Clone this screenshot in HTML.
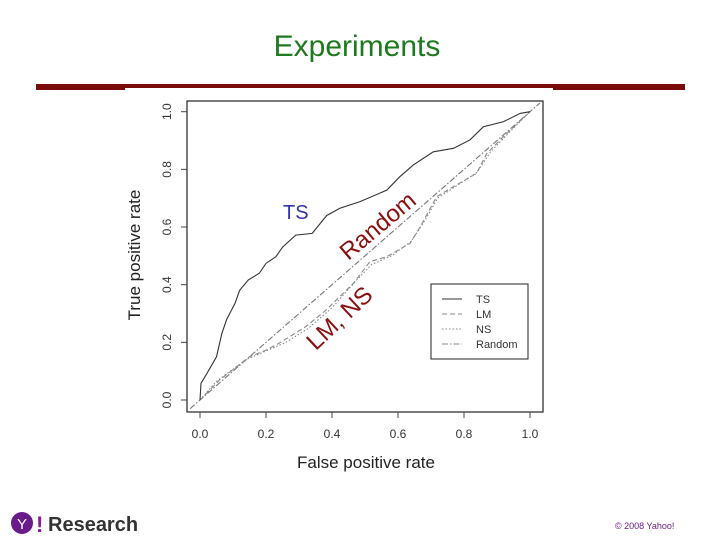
<!DOCTYPE html>
<html><head><meta charset="utf-8"><style>
body{margin:0;background:#fff;}
svg text{font-family:"Liberation Sans",Arial,sans-serif;}
</style></head><body>
<svg width="720" height="540" viewBox="0 0 720 540" xmlns="http://www.w3.org/2000/svg">
<text x="357" y="56" font-size="30" fill="#1e7a1e" text-anchor="middle">Experiments</text>
<rect x="36" y="84" width="649" height="6" fill="#7a0c0c"/>
<rect x="125" y="88" width="428" height="10" fill="#fff"/>
<g id="chart"></g>
<text x="283" y="219" font-size="20" fill="#3333aa">TS</text>
<text transform="translate(383,232) rotate(-40)" font-size="24" fill="#8a1010" text-anchor="middle">Random</text>
<text transform="translate(345,324) rotate(-43)" font-size="24" fill="#8a1010" text-anchor="middle">LM, NS</text>
<g>
<circle cx="22" cy="523" r="11" fill="#6a1b8a"/>
<text x="22" y="529" font-size="15" fill="#fff" text-anchor="middle" font-family="Liberation Serif">Y</text>
<text x="36" y="532" font-size="22" fill="#8a1a9a" font-weight="bold">!</text>
<text x="48" y="531" font-size="20" fill="#333" font-weight="bold">Research</text>
</g>
<text x="615" y="529" font-size="9" fill="#6a1b8a">© 2008 Yahoo!</text>
</svg>
<script>
const ticks=[0,0.2,0.4,0.6,0.8,1.0];
const tickLabels=["0.0","0.2","0.4","0.6","0.8","1.0"];
const tsFpr=[0,0.003,0.02,0.05,0.066,0.081,0.106,0.12,0.146,0.18,0.2,0.23,0.25,0.29,0.34,0.384,0.424,0.485,0.566,0.606,0.646,0.707,0.768,0.818,0.859,0.919,0.97,1];
const tsTpr=[0,0.058,0.09,0.15,0.23,0.28,0.335,0.38,0.416,0.44,0.474,0.497,0.53,0.572,0.578,0.64,0.665,0.688,0.728,0.775,0.815,0.861,0.873,0.902,0.948,0.965,0.994,1];
const lmFpr=[0,0.06,0.15,0.2,0.24,0.32,0.38,0.465,0.515,0.566,0.636,0.667,0.717,0.768,0.838,0.869,0.919,1];
const lmTpr=[0,0.07,0.15,0.173,0.197,0.254,0.31,0.405,0.48,0.497,0.543,0.6,0.705,0.74,0.786,0.855,0.913,1];
const nsFpr=[0,0.05,0.14,0.2,0.26,0.33,0.4,0.47,0.52,0.58,0.64,0.68,0.72,0.78,0.84,0.88,0.93,1];
const nsTpr=[0,0.065,0.14,0.17,0.2,0.25,0.32,0.41,0.47,0.5,0.55,0.62,0.7,0.745,0.79,0.86,0.92,1];
const rndFpr=[-0.03,1.03];
const rndTpr=[-0.03,1.03];
const legendLabels=["TS","LM","NS","Random"];
const legendDash=["","5,3","1.5,2","6,2,1.5,2"];
const NS="http://www.w3.org/2000/svg";
const X=v=>200+v*330, Y=v=>400-v*288.3;
const g=document.getElementById('chart');
function mk(t,a,p){const e=document.createElementNS(NS,t);for(const k in a)e.setAttribute(k,a[k]);(p||g).appendChild(e);return e;}
const box=mk('rect',{x:187,y:101,width:356,height:311,fill:'none',stroke:'#222','stroke-width':1.2});


ticks.forEach((t,i)=>{
 mk('line',{x1:X(t),x2:X(t),y1:412,y2:418,stroke:'#444'});
 const tx=mk('text',{x:X(t),y:438,'font-size':12,'text-anchor':'middle',fill:'#333'});tx.textContent=tickLabels[i];
 
 
 mk('line',{x1:181,x2:187,y1:Y(t),y2:Y(t),stroke:'#444'});
 const ty=mk('text',{transform:`translate(171,${Y(t)}) rotate(-90)`,'font-size':12,'text-anchor':'middle',fill:'#333'});ty.textContent=tickLabels[i];
 
 
});
const xt=mk('text',{x:366,y:468,'font-size':17,'text-anchor':'middle',fill:'#222'});xt.textContent='False positive rate';


const yt=mk('text',{transform:'translate(140,255) rotate(-90)','font-size':17,'text-anchor':'middle',fill:'#222'});yt.textContent='True positive rate';


function line(xs,ys,dash,col,name){const p=mk('polyline',{points:xs.map((x,i)=>X(x)+','+Y(ys[i])).join(' '),fill:'none',stroke:col,'stroke-width':1.1,'stroke-dasharray':dash});
 
 }
line(rndFpr,rndTpr,legendDash[3],'#777','random-line');
line(nsFpr,nsTpr,legendDash[2],'#888','ns-line');
line(lmFpr,lmTpr,legendDash[1],'#888','lm-line');
line(tsFpr,tsTpr,'','#333','ts-line');
const lg=mk('rect',{x:431,y:284,width:97,height:75,fill:'#fff',stroke:'#222'});


legendLabels.forEach((l,i)=>{const y=299+i*15;
 mk('line',{x1:442,x2:462,y1:y,y2:y,stroke:i?'#888':'#333','stroke-dasharray':legendDash[i]});
 const t=mk('text',{x:476,y:y+4,'font-size':11,fill:'#333'});t.textContent=l;
 
 });
</script>
</body></html>
